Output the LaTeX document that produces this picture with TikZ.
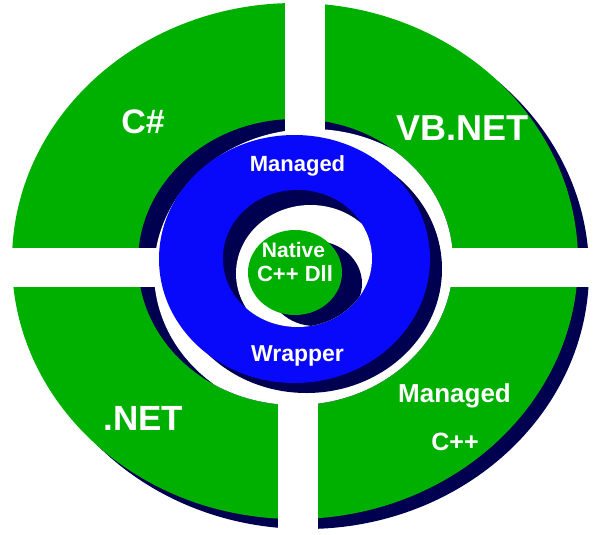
\documentclass[tikz,border=0pt]{standalone}
\usepackage{fontspec}
\setmainfont{Liberation Sans}
\definecolor{dgreen}{RGB}{0,176,0}
\definecolor{dblue}{RGB}{8,8,250}
\definecolor{dnavy}{RGB}{0,0,80}
\tikzset{
  lbl/.style={text=white, font=\bfseries, anchor=base, inner sep=0pt},
}
\begin{document}
\begin{tikzpicture}[x=1pt,y=-1pt]
\useasboundingbox (0,0) rectangle (600,535);
% outer ring with drop shadow
\fill[dnavy] (306,271) ellipse [x radius=283pt, y radius=258pt];
\fill[dgreen] (295,261) ellipse [x radius=283pt, y radius=258pt];
% hole in the outer ring, inset shadow
\fill[dnavy] (295.5,262) ellipse [x radius=157.5pt, y radius=143pt];
\begin{scope}
  \clip (295.5,262) ellipse [x radius=157.5pt, y radius=143pt];
  \fill[white] (311.5,272) ellipse [x radius=157.5pt, y radius=143pt];
\end{scope}
% cross gaps
\fill[white] (285,0) rectangle (325,248);
\fill[white] (278,287) rectangle (318,535);
\fill[white] (0,248) rectangle (600,287);
% blue ring with drop shadow
\fill[dnavy] (306.5,269) ellipse [x radius=135.5pt, y radius=124pt];
\fill[dblue] (294.5,259) ellipse [x radius=135.5pt, y radius=124pt];
% hole in blue ring
\fill[dnavy] (297.5,258.5) ellipse [x radius=74.5pt, y radius=68.5pt];
\begin{scope}
  \clip (297.5,258.5) ellipse [x radius=74.5pt, y radius=68.5pt];
  \fill[white] (310.5,273.5) ellipse [x radius=74.5pt, y radius=68.5pt];
  \fill[dnavy] (315,283.5) ellipse [x radius=47pt, y radius=42.5pt];
\end{scope}
% inner green core
\fill[dgreen] (295,272.5) ellipse [x radius=47pt, y radius=42.5pt];
% labels
\node[lbl, font=\bfseries\fontsize{34}{40}\selectfont] (cs) at (143,133) {C\#};
\node[lbl, font=\bfseries\fontsize{36}{42}\selectfont] (vb) at (462.5,140) {VB.NET};
\node[lbl, font=\bfseries\fontsize{35}{42}\selectfont] (net) at (143.5,430) {.NET};
\node[lbl, font=\bfseries\fontsize{26}{30}\selectfont] (mc1) at (454.5,402) {Managed};
\node[lbl, font=\bfseries\fontsize{25}{30}\selectfont] (mc2) at (455,450) {C++};
\node[lbl, font=\bfseries\fontsize{22}{26}\selectfont] (mw1) at (297.5,171.7) {Managed};
\node[lbl, font=\bfseries\fontsize{23}{26}\selectfont] (mw2) at (297.5,361.7) {Wrapper};
\node[lbl, font=\bfseries\fontsize{21}{25}\selectfont] (nd1) at (293.5,257.3) {Native};
\node[lbl, font=\bfseries\fontsize{22}{25}\selectfont] (nd2) at (295,281.7) {C++ Dll};
\end{tikzpicture}
\end{document}
